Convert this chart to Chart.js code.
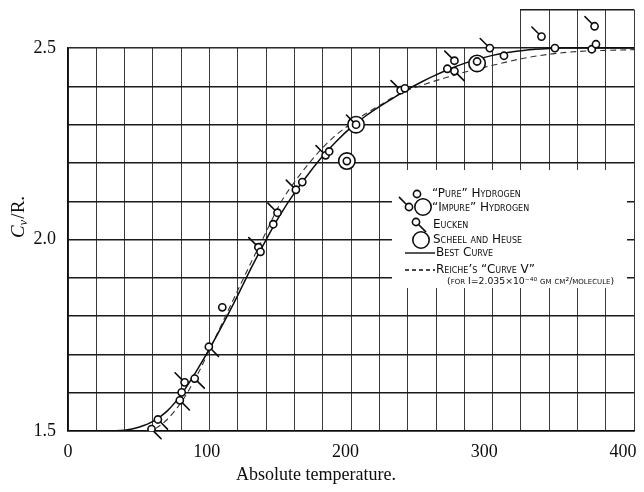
<!DOCTYPE html>
<html><head><meta charset="utf-8">
<script src="https://cdn.jsdelivr.net/npm/chart.js@4.4.0/dist/chart.umd.min.js"></script>
<style>html,body{margin:0;padding:0;background:#fff}</style>
</head><body>
<canvas id="c" width="644" height="492"></canvas>
<script>
// ---- data ----
const xTickLabels = [0, 100, 200, 300, 400];
const yTickLabels = [1.5, 2.0, 2.5];

const bestCurveT  = [30, 40, 50, 60, 70, 80, 90, 100, 110, 120, 130, 140, 150, 160, 170, 180, 190, 200, 210, 220, 230, 240, 250, 260, 270, 280, 290, 300, 310, 320, 330, 340, 350, 400];
const bestCurveCv = [1.500, 1.502, 1.510, 1.525, 1.552, 1.595, 1.652, 1.715, 1.783, 1.855, 1.930, 2.000, 2.065, 2.122, 2.172, 2.218, 2.258, 2.293, 2.322, 2.347, 2.370, 2.392, 2.412, 2.430, 2.446, 2.460, 2.471, 2.481, 2.488, 2.493, 2.497, 2.499, 2.500, 2.500];

const reicheT  = [55, 60, 70, 80, 90, 100, 110, 120, 130, 140, 150, 160, 170, 180, 190, 200, 210, 220, 230, 240, 250, 260, 270, 280, 290, 300, 320, 340, 360, 400];
const reicheCv = [1.500, 1.503, 1.530, 1.575, 1.637, 1.712, 1.790, 1.868, 1.945, 2.020, 2.095, 2.150, 2.198, 2.240, 2.275, 2.303, 2.328, 2.350, 2.372, 2.390, 2.403, 2.415, 2.426, 2.437, 2.446, 2.455, 2.472, 2.484, 2.491, 2.496];

const pureT  = [80.3, 109, 136, 145, 165.5, 184.5, 197, 238, 268, 289, 308, 344, 370, 373];
const pureCv = [1.601, 1.823, 1.968, 2.040, 2.150, 2.230, 2.205, 2.395, 2.446, 2.465, 2.480, 2.500, 2.497, 2.510];

const impureT  = [82.4, 134.5, 148, 161, 182, 203.5, 235, 273, 298, 334.5, 372];
const impureCv = [1.627, 1.980, 2.070, 2.130, 2.220, 2.300, 2.390, 2.467, 2.500, 2.530, 2.557];

const euckenT  = [59, 63.5, 79, 89.5, 99.5, 273];
const euckenCv = [1.505, 1.530, 1.580, 1.637, 1.720, 2.440];

const scheelT  = [197, 203.5, 289];
const scheelCv = [2.205, 2.300, 2.460];

const legendLabels = ['\u201CPure\u201D Hydrogen', '\u201CImpure\u201D Hydrogen', 'Eucken', 'Scheel and Heuse', 'Best Curve', 'Reiche\u2019s \u201CCurve V\u201D', '(for I=2.035\u00D710\u207B\u2074\u2070 gm cm\u00B2/molecule)'];

// ---- helpers ----
const ink = '#0d0d0d';
const SMALL_R = 3.6, LARGE_R = 8.2, TAIL = 10;
function pts(xs, ys) { return xs.map((x, i) => ({ x: x, y: ys[i] })); }
const serif = "'Liberation Serif', 'DejaVu Serif', serif";

function drawTail(ctx, cx, cy, r, dir) {
  const k = Math.SQRT1_2 * dir;
  ctx.beginPath();
  ctx.moveTo(cx + r * k, cy + r * k);
  ctx.lineTo(cx + (r + TAIL) * k, cy + (r + TAIL) * k);
  ctx.stroke();
}
function drawCircle(ctx, cx, cy, r) {
  ctx.beginPath(); ctx.arc(cx, cy, r, 0, Math.PI * 2); ctx.fill(); ctx.stroke();
}

const decor = {
  id: 'decor',
  beforeDatasetsDraw(chart) {
    const { ctx, chartArea: a, scales: { x, y } } = chart;
    ctx.save();
    ctx.fillStyle = '#fff';
    const x320 = x.getPixelForValue(320), y25 = y.getPixelForValue(2.5);
    ctx.fillRect(a.left - 4, a.top - 4, x320 - 1 - (a.left - 4), y25 - 1 - (a.top - 4));
    ctx.fillRect(392, 170, 235, 118);
    ctx.restore();
  },
  afterDatasetsDraw(chart) {
    const { ctx } = chart;
    ctx.save();
    ctx.strokeStyle = ink; ctx.lineWidth = 1.6; ctx.lineCap = 'round';
    chart.data.datasets.forEach((ds, i) => {
      if (!ds.tail) return;
      chart.getDatasetMeta(i).data.forEach(el => drawTail(ctx, el.x, el.y, SMALL_R, ds.tail));
    });
    ctx.restore();
  },
  afterDraw(chart) {
    const { ctx, chartArea: a, scales: { x, y } } = chart;
    ctx.save();
    ctx.fillStyle = ink;
    ctx.font = '18px ' + serif;
    ctx.textAlign = 'center'; ctx.textBaseline = 'middle';
    xTickLabels.forEach(v => {
      let px = a.left + (x.getPixelForValue(v) - a.left) * 0.98;
      const w = ctx.measureText(String(v)).width;
      if (px + w / 2 > 642) px = 642 - w / 2;
      ctx.fillText(String(v), px, 452);
    });
    ctx.textAlign = 'right';
    yTickLabels.forEach(v => ctx.fillText(v.toFixed(1), 56, y.getPixelForValue(v)));
    ctx.textAlign = 'center';
    ctx.fillText('Absolute temperature.', 316, 475);
    // y title C_v/R.
    ctx.save();
    ctx.translate(19, 217); ctx.rotate(-Math.PI / 2);
    ctx.textAlign = 'left'; ctx.textBaseline = 'middle';
    const f1 = 'italic 19px ' + serif, f2 = 'italic 13px ' + serif, f3 = '19px ' + serif;
    ctx.font = f1; const w1 = ctx.measureText('C').width;
    ctx.font = f2; const w2 = ctx.measureText('v').width;
    ctx.font = f3; const w3 = ctx.measureText('/R.').width;
    let sx = -(w1 + w2 + w3 + 1) / 2;
    ctx.font = f1; ctx.fillText('C', sx, 0); sx += w1;
    ctx.font = f2; ctx.fillText('v', sx, 5); sx += w2 + 1;
    ctx.font = f3; ctx.fillText('/R.', sx, 0);
    ctx.restore();
    // legend
    ctx.strokeStyle = ink; ctx.lineWidth = 1.6; ctx.fillStyle = '#fff'; ctx.lineCap = 'round';
    drawCircle(ctx, 417, 194, SMALL_R);
    drawCircle(ctx, 409, 207, SMALL_R); drawTail(ctx, 409, 207, SMALL_R, -1);
    drawCircle(ctx, 423, 207, LARGE_R);
    drawCircle(ctx, 416, 222, SMALL_R); drawTail(ctx, 416, 222, SMALL_R, 1);
    drawCircle(ctx, 421, 240, LARGE_R);
    ctx.lineWidth = 1.4; ctx.lineCap = 'butt';
    ctx.beginPath(); ctx.moveTo(405, 253); ctx.lineTo(435, 253); ctx.stroke();
    ctx.setLineDash([4, 3]);
    ctx.beginPath(); ctx.moveTo(405, 270); ctx.lineTo(435, 270); ctx.stroke();
    ctx.setLineDash([]);
    ctx.fillStyle = ink;
    ctx.font = 'small-caps 12px "DejaVu Sans", sans-serif';
    ctx.textAlign = 'left'; ctx.textBaseline = 'middle';
    ctx.fillText(legendLabels[0], 432, 194);
    ctx.fillText(legendLabels[1], 432, 208);
    ctx.fillText(legendLabels[2], 433, 225);
    ctx.fillText(legendLabels[3], 433, 240);
    ctx.fillText(legendLabels[4], 436, 253);
    ctx.fillText(legendLabels[5], 436, 270);
    ctx.font = 'small-caps 9.3px "DejaVu Sans", sans-serif';
    ctx.fillText(legendLabels[6], 447, 282);
    ctx.restore();
  }
};

const pointSet = (data, r, tail) => ({ data: data, tail: tail, showLine: false, pointStyle: 'circle', pointRadius: r, pointBorderWidth: 1.6, borderColor: ink, backgroundColor: '#fff', pointBackgroundColor: '#fff', pointBorderColor: ink });

new Chart(document.getElementById('c'), {
  type: 'line',
  data: {
    datasets: [
      pointSet(pts(pureT, pureCv), SMALL_R, 0),
      pointSet(pts(impureT, impureCv), SMALL_R, -1),
      pointSet(pts(euckenT, euckenCv), SMALL_R, 1),
      pointSet(pts(scheelT, scheelCv), LARGE_R, 0),
      { data: pts(bestCurveT, bestCurveCv), borderColor: ink, borderWidth: 1.5, pointRadius: 0, cubicInterpolationMode: 'monotone', fill: false },
      { data: pts(reicheT, reicheCv), borderColor: '#333', borderWidth: 1.1, borderDash: [6, 4], pointRadius: 0, cubicInterpolationMode: 'monotone', fill: false }
    ]
  },
  options: {
    responsive: false, animation: false, devicePixelRatio: 1,
    layout: { padding: { top: 5, right: 7, left: 0, bottom: 0 } },
    plugins: { legend: { display: false }, tooltip: { enabled: false } },
    scales: {
      x: {
        type: 'linear', min: 0, max: 400,
        ticks: { display: false, stepSize: 20 },
        grid: { color: '#3a3a3a', lineWidth: 1, drawTicks: false },
        border: { display: true, color: ink, width: 1.5 },
        afterFit(s) { s.height = 61; s.paddingLeft = 0; s.paddingRight = 0; s.paddingTop = 0; s.paddingBottom = 0; }
      },
      y: {
        type: 'linear', min: 1.5, max: 2.6,
        ticks: { display: false, stepSize: 0.1 },
        grid: { color: '#1a1a1a', lineWidth: 1.4, drawTicks: false },
        border: { display: true, color: ink, width: 1.5 },
        afterFit(s) { s.width = 68; s.paddingLeft = 0; s.paddingRight = 0; s.paddingTop = 0; s.paddingBottom = 0; }
      }
    }
  },
  plugins: [decor]
});
</script>
</body></html>
